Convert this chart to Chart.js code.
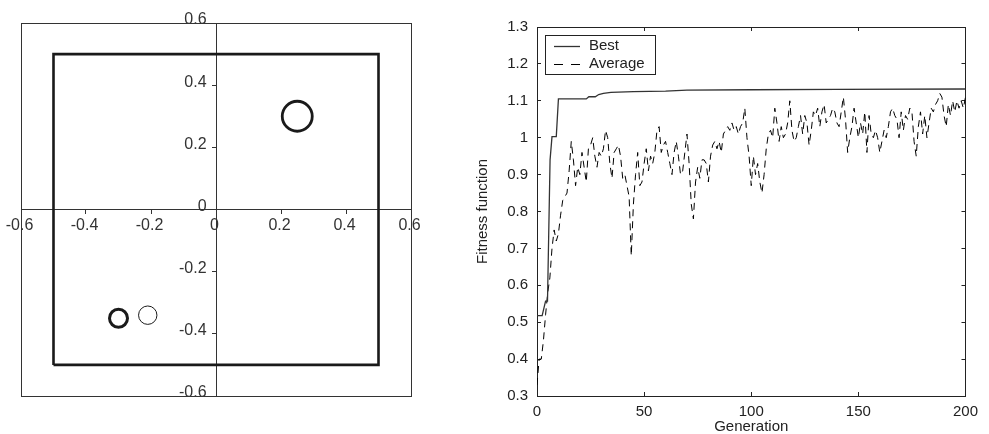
<!DOCTYPE html>
<html>
<head>
<meta charset="utf-8">
<script src="https://cdn.jsdelivr.net/npm/chart.js@4.4.1/dist/chart.umd.min.js"></script>
<style>
  html, body { margin: 0; padding: 0; background: #fff; }
  #wrap { position: relative; width: 989px; height: 434px; }
  #left { position: absolute; left: 0; top: 0; width: 440px; height: 434px; }
  #right { position: absolute; left: 470px; top: 0; width: 519px; height: 434px; }
</style>
</head>
<body>
<div id="wrap">
  <div id="left"><canvas id="layoutChart"></canvas></div>
  <div id="right"><canvas id="fitnessChart"></canvas></div>
</div>
<script>
// Panneau gauche : domaine carré et cercles
const squareX = [-0.5, 0.5, 0.5, -0.5, -0.5];
const squareY = [-0.5, -0.5, 0.5, 0.5, -0.5];
const circleX = [0.25, -0.30, -0.21];
const circleY = [0.30, -0.35, -0.34];
const axisTicks = [-0.6, -0.4, -0.2, 0, 0.2, 0.4, 0.6];

// Panneau droit : évolution de la fonction fitness
const bestGen = [0, 2.4, 4, 4.9, 6.1, 7, 9, 10, 23, 24.2, 27.2, 28.8, 31, 34.5, 45, 60, 70, 100, 140, 200];
const bestFit = [0.518, 0.518, 0.557, 0.557, 0.94, 1.003, 1.003, 1.105, 1.105, 1.111, 1.111, 1.117, 1.12, 1.123, 1.125, 1.126, 1.129, 1.13, 1.131, 1.132];
const avgFit = [
  0.33, 0.40, 0.40, 0.45, 0.52, 0.58, 0.62, 0.70, 0.75, 0.72,
  0.74, 0.79, 0.83, 0.84, 0.85, 0.91, 0.99, 0.94, 0.87, 0.92,
  0.90, 0.96, 0.92, 0.88, 0.97, 0.98, 1.00, 0.95, 0.92, 0.96,
  0.95, 0.97, 1.02, 1.00, 0.93, 0.89, 0.96, 0.97, 0.98, 0.95,
  0.89, 0.90, 0.87, 0.84, 0.68, 0.82, 0.90, 0.96, 0.87, 0.88,
  0.93, 0.97, 0.91, 0.95, 0.93, 0.96, 1.02, 1.03, 0.96, 0.98,
  0.99, 0.96, 0.93, 0.90, 0.96, 0.99, 0.95, 0.90, 0.91, 0.96,
  1.01, 0.93, 0.82, 0.78, 0.88, 0.92, 0.89, 0.94, 0.94, 0.93,
  0.88, 0.95, 0.98, 0.99, 0.97, 0.99, 0.96, 1.01, 1.02, 1.03,
  1.02, 1.04, 1.02, 1.03, 1.01, 1.03, 1.04, 1.08, 1.00, 0.95,
  0.87, 0.95, 0.90, 0.93, 0.88, 0.85, 0.90, 0.97, 1.01, 1.02,
  1.00, 1.08, 1.04, 0.99, 1.03, 1.00, 1.01, 1.04, 1.10, 1.02,
  0.99, 1.00, 1.03, 1.06, 1.01, 1.06, 1.04, 0.98, 1.02, 1.07,
  1.06, 1.08, 1.03, 1.07, 1.09, 1.04, 1.05, 1.06, 1.08, 1.07,
  1.04, 1.03, 1.07, 1.11, 1.05, 0.96, 1.00, 1.03, 1.08, 1.04,
  1.00, 1.04, 1.01, 1.07, 0.96, 1.06, 1.01, 1.00, 1.02, 1.00,
  0.96, 0.99, 1.02, 1.00, 1.03, 1.07, 1.08, 1.06, 1.05, 1.00,
  1.07, 1.02, 1.06, 1.05, 1.08, 1.07, 0.99, 0.95, 1.03, 1.07,
  1.01, 1.06, 1.00, 1.04, 1.08, 1.07, 1.09, 1.10, 1.12, 1.11,
  1.06, 1.03, 1.09, 1.06, 1.10, 1.07, 1.10, 1.08, 1.10, 1.08,
  1.11
];

Chart.defaults.font.family = "'Liberation Sans', Arial, sans-serif";
Chart.defaults.font.size = 15;
Chart.defaults.color = "#333";
Chart.defaults.animation = false;

const fmt = (v) => String(Math.round(v * 10) / 10);
const fixedTicks = (s) => { s.ticks = axisTicks.map((v) => ({ value: v })); };

// Cadre extérieur du panneau gauche
const frame = {
  id: "frame",
  beforeDatasetsDraw(chart) {
    const a = chart.chartArea;
    const ctx = chart.ctx;
    ctx.save();
    ctx.strokeStyle = "#333";
    ctx.lineWidth = 1;
    ctx.strokeRect(Math.round(a.left) + 0.5, Math.round(a.top) + 0.5, Math.round(a.right - a.left), Math.round(a.bottom - a.top));
    ctx.restore();
  },
};

new Chart(document.getElementById("layoutChart"), {
  type: "scatter",
  data: {
    datasets: [
      {
        data: squareX.map((x, i) => ({ x: x, y: squareY[i] })),
        showLine: true,
        borderColor: "#1a1a1a",
        borderWidth: 2.6,
        pointRadius: 0,
      },
      {
        data: circleX.map((x, i) => ({ x: x, y: circleY[i] })),
        borderColor: "#1a1a1a",
        backgroundColor: "rgba(0,0,0,0)",
        pointRadius: [15, 9, 9.2],
        pointBorderWidth: [2.8, 3, 1],
      },
    ],
  },
  options: {
    responsive: true,
    maintainAspectRatio: false,
    layout: { padding: { left: 21, top: 23, right: 29, bottom: 38 } },
    plugins: { legend: { display: false }, tooltip: { enabled: false } },
    scales: {
      x: {
        type: "linear",
        min: -0.6,
        max: 0.6,
        position: { y: 0 },
        afterBuildTicks: fixedTicks,
        ticks: { callback: fmt, padding: 2, labelOffset: -1.5, maxRotation: 0, autoSkip: false, font: { size: 16 } },
        grid: { drawOnChartArea: false, tickLength: 4, color: "#333" },
        border: { color: "#333", width: 1 },
      },
      y: {
        type: "linear",
        min: -0.6,
        max: 0.6,
        position: { x: 0 },
        afterBuildTicks: fixedTicks,
        ticks: { display: false },
        grid: { drawOnChartArea: false, tickLength: 4, color: "#333" },
        border: { color: "#333", width: 1 },
      },
      // axe des étiquettes Y, décalé à gauche de l'axe vertical
      yLabels: {
        axis: "y",
        type: "linear",
        min: -0.6,
        max: 0.6,
        position: { x: -0.029 },
        afterBuildTicks: fixedTicks,
        ticks: { callback: fmt, labelOffset: -3, autoSkip: false, font: { size: 16 } },
        grid: { display: false },
        border: { display: false },
      },
    },
  },
  plugins: [frame],
});

// Légende encadrée dans la zone de tracé
const boxLegend = {
  id: "boxLegend",
  afterDraw(chart) {
    const a = chart.chartArea;
    const ctx = chart.ctx;
    const x0 = a.left + 8, y0 = a.top + 8;
    ctx.save();
    ctx.strokeStyle = "#222";
    ctx.lineWidth = 1;
    ctx.strokeRect(Math.round(x0) + 0.5, Math.round(y0) + 0.5, 110, 39);
    chart.data.datasets.forEach((ds, i) => {
      const y = y0 + 11 + i * 18;
      ctx.beginPath();
      ctx.setLineDash(ds.borderDash && ds.borderDash.length ? [9, 8] : []);
      ctx.strokeStyle = ds.borderColor;
      ctx.lineWidth = ds.borderWidth;
      ctx.moveTo(x0 + 9, y + 0.5);
      ctx.lineTo(x0 + 35, y + 0.5);
      ctx.stroke();
      ctx.setLineDash([]);
      ctx.fillStyle = "#222";
      ctx.font = "15px 'Liberation Sans', Arial, sans-serif";
      ctx.textBaseline = "middle";
      ctx.textAlign = "left";
      ctx.fillText(ds.label, x0 + 44, y);
    });
    ctx.restore();
  },
};

const inward = { drawOnChartArea: false, tickLength: -4, color: "#222" };

new Chart(document.getElementById("fitnessChart"), {
  type: "scatter",
  data: {
    datasets: [
      {
        label: "Best",
        data: bestGen.map((g, i) => ({ x: g, y: bestFit[i] })),
        showLine: true,
        borderColor: "#333",
        borderWidth: 1.3,
        pointRadius: 0,
      },
      {
        label: "Average",
        data: avgFit.map((v, i) => ({ x: i, y: v })),
        showLine: true,
        borderColor: "#000",
        borderWidth: 1,
        borderDash: [7, 5],
        pointRadius: 0,
      },
    ],
  },
  options: {
    responsive: true,
    maintainAspectRatio: false,
    layout: { padding: { left: 0, top: 27, right: 14, bottom: 0 } },
    plugins: { legend: { display: false }, tooltip: { enabled: false } },
    scales: {
      x: {
        type: "linear",
        position: "bottom",
        min: 0,
        max: 200,
        ticks: { stepSize: 50, padding: 11, color: "#222", maxRotation: 0 },
        grid: inward,
        border: { color: "#222", width: 1 },
        title: { display: true, text: "Generation", color: "#222", padding: { top: 0, bottom: -2 } },
        afterFit: (s) => { s.height = 38; },
      },
      y: {
        type: "linear",
        position: "left",
        min: 0.3,
        max: 1.3,
        ticks: { stepSize: 0.1, callback: fmt, padding: 13, color: "#222" },
        grid: inward,
        border: { color: "#222", width: 1 },
        title: { display: true, text: "Fitness function", color: "#222", padding: { top: 4, bottom: 0 } },
        afterFit: (s) => { s.width = 67; },
      },
      x2: {
        axis: "x",
        type: "linear",
        position: "top",
        min: 0,
        max: 200,
        ticks: { stepSize: 50, display: false },
        grid: inward,
        border: { color: "#222", width: 1 },
        afterFit: (s) => { s.height = 0; },
      },
      y2: {
        axis: "y",
        type: "linear",
        position: "right",
        min: 0.3,
        max: 1.3,
        ticks: { stepSize: 0.1, display: false },
        grid: inward,
        border: { color: "#222", width: 1 },
        afterFit: (s) => { s.width = 0; },
      },
    },
  },
  plugins: [boxLegend],
});
</script>
</body>
</html>
